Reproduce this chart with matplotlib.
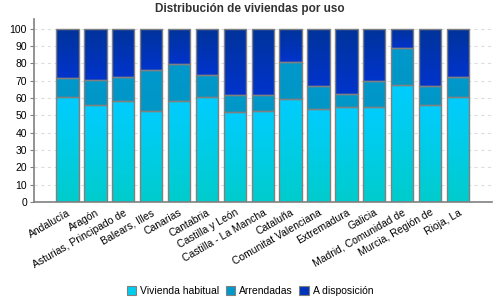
import numpy as np
import matplotlib
matplotlib.use("Agg")
import matplotlib.pyplot as plt
from matplotlib.patches import Patch

plt.rcParams['font.family'] = ['Liberation Sans', 'DejaVu Sans']

categories = ["Andalucía", "Aragón", "Asturias, Principado de", "Balears, Illes",
              "Canarias", "Cantabria", "Castilla y León", "Castilla - La Mancha",
              "Cataluña", "Comunitat Valenciana", "Extremadura", "Galicia",
              "Madrid, Comunidad de", "Murcia, Región de", "Rioja, La"]
vivienda_habitual = [60.4, 55.8, 58.1, 52.7, 58.1, 60.4, 51.7, 52.3, 59.6, 53.5, 54.6, 54.6, 67.3, 55.8, 60.4]
arrendadas = [11.0, 14.4, 13.8, 23.3, 21.4, 12.7, 9.9, 9.3, 21.0, 13.3, 7.5, 15.0, 21.4, 11.0, 11.5]
a_disposicion = [28.6, 29.8, 28.1, 24.0, 20.5, 26.9, 38.4, 38.4, 19.4, 33.2, 37.9, 30.4, 11.3, 33.2, 28.1]
series_names = ["Vivienda habitual", "Arrendadas", "A disposición"]
yticks = [0, 10, 20, 30, 40, 50, 60, 70, 80, 90, 100]

# gradient (top colour, bottom colour) per series
grad = [("#00CCFF", "#00CCCC"), ("#0099CC", "#0096C6"), ("#003399", "#0033CC")]
legend_colors = ["#00CCEE", "#0099CC", "#0033BB"]

fig = plt.figure(figsize=(5, 3), dpi=100)
ax = fig.add_axes([0.068, 0.3267, 0.916, 0.61])

x = np.arange(len(categories))
width = 0.8
bottom = np.zeros(len(categories))
series = [vivienda_habitual, arrendadas, a_disposicion]

def hex2rgb(h):
    return np.array(matplotlib.colors.to_rgb(h))

for vals, (ctop, cbot) in zip(series, grad):
    vals = np.array(vals)
    bars = ax.bar(x, vals, width, bottom=bottom, color=cbot, edgecolor='none', zorder=2)
    t = hex2rgb(ctop); b = hex2rgb(cbot)
    g = np.linspace(0, 1, 64)[:, None]
    img = (t[None, :] * (1 - g) + b[None, :] * g)[:, None, :]
    for rect in bars:
        x0, y0 = rect.get_x(), rect.get_y()
        w, h = rect.get_width(), rect.get_height()
        im = ax.imshow(img, extent=[x0, x0 + w, y0, y0 + h], aspect='auto',
                       origin='upper', zorder=2.5, interpolation='bilinear')
        im.set_clip_path(rect)
    ax.bar(x, vals, width, bottom=bottom, facecolor='none', edgecolor='#808080',
           linewidth=1.0, zorder=3)
    bottom = bottom + vals

ax.set_xlim(-1.2, 15.22)
ax.set_ylim(0, 105.5)
ax.set_yticks(yticks)
ax.set_yticklabels([str(v) for v in yticks], fontsize=7.5)
ax.set_xticks(x)
ax.set_xticklabels(categories, rotation=30, ha='right', rotation_mode='anchor', fontsize=7.5)
ax.tick_params(axis='x', length=0, pad=4)
ax.tick_params(axis='y', length=3, color='#808080', pad=2)
ax.yaxis.grid(True, linestyle=(0, (3, 3)), color='#DDDDDD', linewidth=0.8, zorder=0)
ax.set_axisbelow(True)
for s in ['top', 'right']:
    ax.spines[s].set_visible(False)
for s in ['left', 'bottom']:
    ax.spines[s].set_color('#808080')
    ax.spines[s].set_linewidth(1.2)

fig.suptitle("Distribución de viviendas por uso", x=0.5, y=0.99, fontsize=8.5,
             fontweight='bold', color='#333333', va='top')

handles = [Patch(facecolor=c, edgecolor='#808080', linewidth=0.8, label=n)
           for c, n in zip(legend_colors, series_names)]
fig.legend(handles=handles, loc='center', bbox_to_anchor=(0.5, 0.03), ncol=3,
           frameon=False, fontsize=7.5, handlelength=0.9, handleheight=0.9,
           handletextpad=0.4, columnspacing=0.6)

fig.savefig("out.png", dpi=100)
